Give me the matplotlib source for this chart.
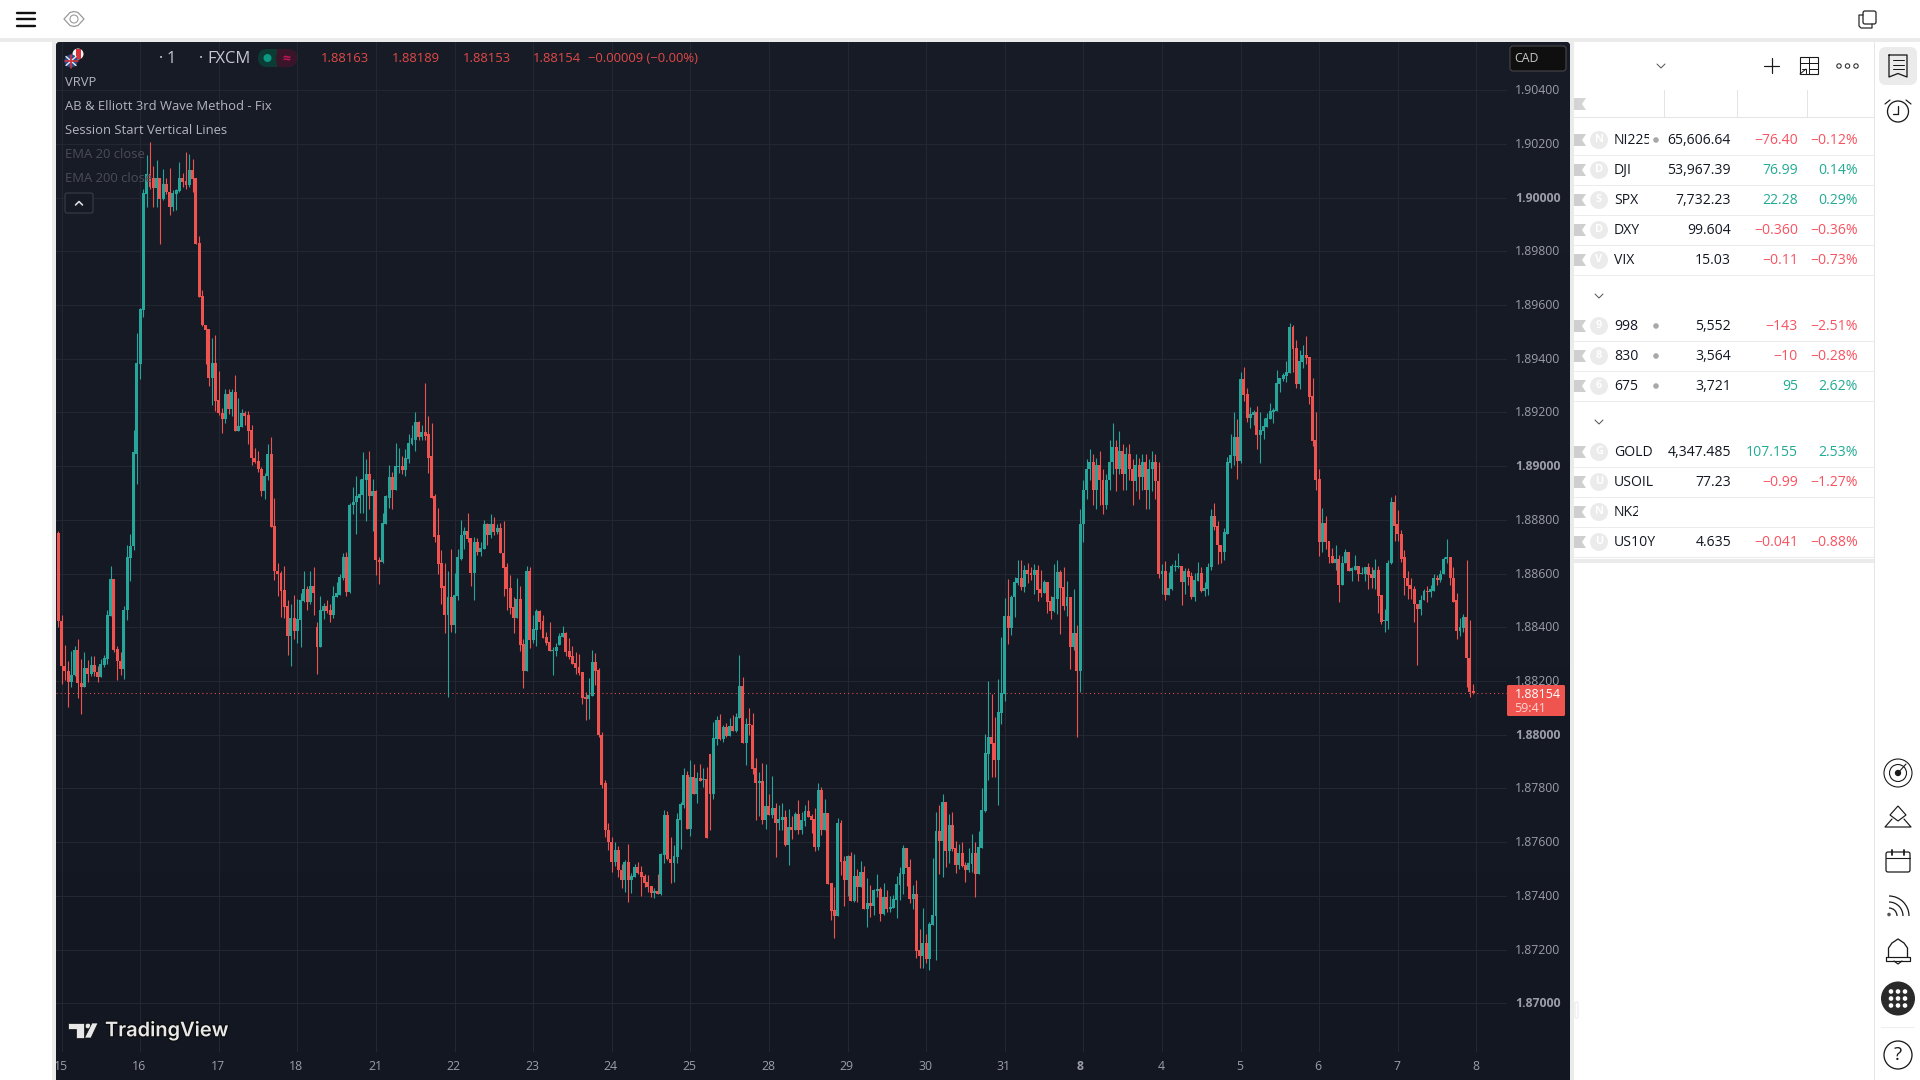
import numpy as np
import matplotlib
matplotlib.use("Agg")
import matplotlib.pyplot as plt
from matplotlib.patches import Rectangle, Circle, Polygon, FancyBboxPatch, Arc
from matplotlib.transforms import Bbox, Affine2D
import matplotlib.patheffects as pe

plt.rcParams['font.family'] = ['Open Sans', 'DejaVu Sans']

# hourly candles, points (1e-5) above 1.87000
opens = [
    1752,1425,1255,1239,1195,1221,1317,1194,1177,1249,1228,1261,
    1235,1214,1261,1283,1441,1581,1321,1276,1246,1463,1657,1701,
    2047,2379,2580,3012,3087,3074,3037,3074,2994,3050,3021,2964,
    3012,3025,3072,3061,3047,3102,3072,2830,2632,2527,2509,2327,
    2383,2245,2199,2174,2267,2211,2275,2129,2144,2196,2189,2133,
    2032,2021,1991,1909,1962,2047,1779,1611,1604,1540,1481,1369,
    1436,1388,1429,1499,1544,1496,1552,1403,1328,1462,1481,1466,
    1444,1514,1522,1585,1660,1533,1854,1865,1883,1891,1950,1969,
    1887,1909,1652,1645,1786,1883,1958,1913,1995,1999,1984,2025,
    2081,2099,2163,2107,2126,2118,2036,1887,1742,1641,1552,1444,
    1511,1410,1518,1656,1742,1760,1731,1604,1716,1682,1693,1783,
    1742,1783,1753,1768,1678,1623,1548,1477,1436,1507,1339,1239,
    1611,1354,1391,1462,1425,1365,1347,1313,1313,1336,1365,1377,
    1313,1295,1269,1254,1235,1142,1134,1146,1272,1242,1000,820,
    646,602,527,572,497,460,527,460,471,508,490,475,
    452,437,411,419,408,553,702,538,523,545,683,739,
    851,650,844,780,840,832,836,929,780,985,1056,985,
    1030,996,1034,1015,1063,1183,970,1041,1037,877,821,829,
    683,735,702,728,672,683,694,590,657,646,706,646,
    680,717,698,687,583,795,646,709,449,348,326,672,
    531,460,549,381,475,434,490,352,374,363,419,426,
    333,396,352,355,385,441,482,579,508,389,408,199,
    176,225,165,292,326,642,605,750,568,665,579,516,
    561,516,497,519,561,482,579,717,929,993,970,907,
    1082,1153,1443,1399,1511,1566,1585,1551,1615,1604,1596,1615,
    1544,1529,1570,1499,1462,1507,1607,1551,1481,1511,1328,1380,
    1238,1786,1913,1988,2017,1913,2006,1950,1857,1950,2017,2070,
    1988,2055,1969,2044,1988,1943,2006,1958,2017,1913,1988,2017,
    1943,1600,1611,1522,1544,1626,1626,1630,1570,1611,1592,1511,
    1574,1604,1537,1544,1623,1816,1779,1708,1679,1749,2010,2036,
    2107,2021,2323,2267,2178,2189,2200,2115,2129,2144,2174,2200,
    2204,2305,2323,2334,2346,2517,2439,2305,2387,2413,2405,2260,
    2096,1951,1716,1787,1720,1664,1641,1656,1559,1638,1682,1608,
    1615,1630,1597,1600,1623,1597,1585,1615,1522,1425,1425,1638,
    1865,1783,1749,1660,1585,1556,1544,1488,1470,1500,1537,1533,
    1537,1585,1578,1597,1656,1660,1585,1500,1388,1399,1440,1287,
    1163]
closes = [
    1423,1255,1236,1195,1224,1317,1191,1177,1249,1228,1261,1234,
    1214,1265,1287,1444,1581,1317,1273,1246,1466,1660,1704,2051,
    2383,2584,3016,3087,3040,3037,3074,2994,3050,3019,2964,3016,
    3027,3072,3058,3047,3102,3068,2826,2630,2524,2506,2327,2383,
    2241,2196,2174,2267,2211,2275,2129,2148,2196,2185,2129,2029,
    2017,1988,1909,1965,2047,1775,1608,1600,1537,1477,1369,1436,
    1388,1432,1503,1544,1496,1552,1529,1328,1466,1481,1462,1444,
    1518,1526,1589,1660,1533,1857,1868,1887,1895,1954,1969,1887,
    1909,1649,1645,1790,1887,1958,1913,1999,1999,1984,2029,2085,
    2103,2163,2107,2126,2114,2032,1883,1738,1637,1548,1444,1511,
    1410,1522,1660,1745,1760,1727,1604,1716,1682,1697,1783,1742,
    1783,1753,1768,1675,1619,1544,1473,1436,1507,1336,1239,1611,
    1354,1395,1462,1421,1362,1343,1313,1317,1328,1369,1377,1309,
    1291,1265,1250,1231,1138,1134,1149,1272,1239,1000,814,646,
    602,527,572,497,460,527,460,475,508,486,471,449,
    434,411,419,408,557,702,538,523,549,687,743,851,
    650,844,780,840,829,836,616,780,989,1056,985,1030,
    996,1034,1015,1067,1183,970,1041,1037,873,821,829,683,
    735,702,728,672,687,694,590,657,646,706,646,683,
    717,694,683,583,795,646,709,445,344,326,672,527,
    460,549,381,475,434,490,352,374,363,422,426,333,
    396,352,359,389,445,486,579,504,389,408,195,176,
    225,165,296,329,642,605,750,568,665,575,516,561,
    512,497,523,561,482,583,720,933,993,967,907,1086,
    1156,1443,1399,1514,1570,1585,1551,1615,1600,1596,1615,1540,
    1529,1570,1496,1462,1511,1607,1548,1481,1511,1328,1380,1238,
    1786,1913,1988,2017,1913,2006,1950,1857,1950,2017,2070,1988,
    2055,1969,2044,1988,1943,2006,1958,2017,1913,1988,2017,1943,
    1600,1611,1522,1548,1630,1630,1630,1570,1611,1589,1511,1578,
    1604,1537,1548,1626,1816,1775,1705,1679,1753,2014,2040,2107,
    2021,2323,2264,2178,2193,2200,2115,2133,2148,2178,2204,2208,
    2308,2327,2338,2349,2517,2435,2305,2390,2413,2401,2256,2092,
    1947,1716,1787,1716,1660,1641,1656,1559,1641,1682,1608,1619,
    1630,1597,1604,1623,1593,1585,1615,1518,1421,1429,1641,1865,
    1779,1746,1656,1582,1552,1541,1485,1470,1503,1537,1533,1541,
    1585,1578,1600,1656,1660,1582,1496,1388,1403,1440,1284,1161,
    1154]
highs = [
    1760,1447,1336,1273,1311,1329,1358,1283,1307,1280,1292,1292,
    1257,1283,1298,1464,1630,1581,1332,1309,1481,1708,1749,2133,
    2494,2590,3031,3158,3205,3118,3139,3074,3105,3072,3109,3027,
    3031,3132,3091,3169,3161,3143,3072,2856,2655,2527,2509,2476,
    2487,2353,2217,2289,2288,2286,2338,2252,2211,2207,2204,2152,
    2066,2055,1995,1976,2081,2107,1883,1641,1608,1630,1500,1485,
    1522,1507,1526,1611,1555,1608,1626,1418,1518,1492,1503,1485,
    1552,1567,1600,1678,1682,1861,1921,1962,1954,2051,2025,2058,
    1954,1913,1660,1827,1891,2003,1980,2088,2066,2036,2062,2118,
    2155,2200,2167,2152,2308,2185,2159,1898,1846,1686,1641,1608,
    1690,1604,1693,1801,1772,1824,1734,1738,1731,1716,1798,1790,
    1820,1809,1783,1790,1794,1641,1593,1511,1582,1552,1358,1630,
    1626,1447,1470,1466,1444,1384,1421,1328,1343,1380,1406,1384,
    1362,1332,1309,1302,1235,1160,1213,1317,1306,1250,1010,830,
    670,620,600,585,520,534,594,486,519,527,512,482,
    478,437,430,482,560,721,717,620,590,709,750,877,
    866,907,892,862,892,877,881,929,1048,1071,1078,1037,
    1045,1063,1075,1082,1298,1216,1063,1101,1082,914,862,896,
    892,780,847,747,739,747,721,724,698,713,758,713,
    739,758,706,728,821,806,762,709,449,434,691,683,
    549,553,564,557,501,531,512,467,441,426,482,434,
    449,422,400,404,475,508,590,579,538,441,460,277,
    356,259,303,542,713,739,780,750,706,713,605,594,
    601,527,579,631,601,642,803,1004,1201,1153,1067,1209,
    1365,1510,1581,1522,1589,1652,1652,1633,1641,1626,1637,1633,
    1615,1578,1570,1518,1637,1652,1615,1626,1574,1511,1544,1410,
    1839,1950,2025,2062,2044,2032,2055,1988,1969,2099,2159,2099,
    2129,2081,2070,2081,2025,2044,2032,2044,2044,2025,2055,2044,
    2017,1637,1648,1607,1637,1652,1678,1630,1622,1619,1607,1604,
    1645,1626,1567,1641,1839,1861,1794,1708,1768,2033,2118,2200,
    2174,2349,2368,2290,2219,2208,2223,2200,2178,2196,2234,2215,
    2357,2327,2346,2390,2532,2524,2468,2431,2450,2483,2405,2327,
    2200,1988,1843,1813,1723,1697,1705,1671,1664,1690,1682,1626,
    1671,1630,1626,1626,1641,1626,1656,1630,1522,1470,1649,1884,
    1891,1835,1761,1686,1611,1582,1552,1488,1522,1541,1552,1556,
    1597,1593,1615,1660,1727,1660,1626,1526,1436,1451,1652,1429,
    1189]
lows = [
    1400,1188,1203,1102,1177,1218,1136,1076,1177,1198,1218,1218,
    1198,1214,1251,1265,1441,1309,1205,1224,1209,1429,1574,1686,
    1932,2323,2555,2966,3031,2966,2966,2826,2991,3012,2934,2948,
    2953,3022,3041,3031,3041,3022,2826,2630,2522,2379,2298,2226,
    2207,2189,2122,2159,2193,2185,2129,2129,2144,2155,2081,2006,
    2010,1980,1887,1876,1947,1775,1578,1518,1440,1436,1298,1257,
    1358,1343,1328,1496,1466,1488,1444,1228,1328,1432,1455,1421,
    1436,1514,1522,1578,1518,1526,1820,1749,1824,1824,1794,1842,
    1760,1596,1563,1641,1786,1846,1839,1913,1973,1969,1965,2010,
    2077,2058,2096,2096,2096,1973,1880,1716,1600,1488,1380,1142,
    1384,1377,1500,1649,1690,1719,1555,1500,1671,1667,1693,1708,
    1731,1745,1749,1675,1518,1466,1451,1377,1436,1313,1175,1239,
    1324,1343,1332,1395,1362,1336,1313,1224,1295,1336,1365,1295,
    1283,1265,1228,1224,1116,1056,1060,1146,1187,990,800,620,
    570,490,510,470,430,415,378,411,471,482,400,434,
    415,396,393,408,404,523,534,449,452,523,575,728,
    650,624,780,747,829,806,616,646,762,963,981,974,
    993,996,1015,1011,1063,970,888,1000,855,683,698,668,
    650,702,691,545,646,646,586,516,613,646,631,631,
    661,694,635,568,572,627,646,445,311,244,326,478,
    363,400,381,378,378,434,352,285,322,329,396,307,
    329,340,340,355,318,385,408,437,374,352,169,132,
    132,150,124,292,162,482,471,508,523,568,486,501,
    508,452,490,490,396,482,579,713,832,844,844,739,
    1041,1127,1339,1373,1440,1559,1540,1533,1566,1578,1525,1499,
    1514,1529,1455,1432,1458,1451,1376,1466,1443,1246,1317,993,
    1160,1716,1876,1950,1857,1839,1857,1820,1839,1913,1969,1906,
    1969,1913,1913,1950,1857,1906,1876,1913,1839,1839,1906,1876,
    1585,1525,1503,1522,1540,1611,1619,1484,1525,1559,1507,1499,
    1574,1530,1518,1522,1615,1761,1634,1641,1649,1749,1992,2003,
    1954,2010,2241,2163,2141,2152,2062,2010,2100,2144,2174,2159,
    2204,2275,2316,2312,2346,2349,2290,2286,2364,2379,2230,2074,
    1913,1667,1682,1690,1641,1638,1615,1496,1556,1638,1608,1574,
    1615,1574,1597,1574,1544,1548,1541,1455,1414,1384,1392,1634,
    1723,1723,1645,1522,1507,1507,1421,1261,1444,1500,1496,1511,
    1537,1559,1570,1597,1638,1559,1496,1358,1366,1384,1176,1142,
    1153]

day_labels = ['15','16','17','18','21','22','23','24','25','28','29','30','31','8','4','5','6','7','8']
price_ticks = [1.87 + 0.002 * k for k in range(18)]
bold_prices = ['1.87000', '1.88000', '1.89000', '1.90000']
last_price = 1.88154

ohlc_header = ['1.88163', '1.88189', '1.88153', '1.88154']
legend_names = ['VRVP', 'AB & Elliott 3rd Wave Method - Fix', 'Session Start Vertical Lines', 'EMA 20 close', 'EMA 200 close']

symbols = ['NI225', 'DJI', 'SPX', 'DXY', 'VIX', '9984', '8306', '6758', 'GOLD', 'USOIL', 'NK225', 'US10Y']
badges = ['N', 'D', 'S', 'D', 'V', '9', '8', '6', 'G', 'U', 'N', 'U']
last_vals = ['65,606.64', '53,967.39', '7,732.23', '99.604', '15.03', '5,552', '3,564', '3,721', '4,347.485', '77.23', '', '4.635']
changes = ['−76.40', '76.99', '22.28', '−0.360', '−0.11', '−143', '−10', '95', '107.155', '−0.99', '', '−0.041']
percents = ['−0.12%', '0.14%', '0.29%', '−0.36%', '−0.73%', '−2.51%', '−0.28%', '2.62%', '2.53%', '−1.27%', '', '−0.88%']
row_y = [140, 170, 200, 230, 260, 326, 356, 386, 452, 482, 512, 542]

GREEN = '#26a69a'
RED = '#ef5350'
W_GREEN = '#22ab94'
W_RED = '#f7525f'
GRID = '#232732'
TICK = '#9b9ea8'
BAND = '#ebebeb'

fig = plt.figure(figsize=(19.2, 10.8), dpi=100, facecolor='white')

# background layer, pixel coordinates
bg = fig.add_axes([0, 0, 1, 1], zorder=0)
bg.set_xlim(0, 1920)
bg.set_ylim(1080, 0)
bg.axis('off')
bg.add_patch(Rectangle((0, 38), 1920, 4, color=BAND, lw=0))
bg.add_patch(Rectangle((52, 38), 4, 1042, color=BAND, lw=0))
bg.add_patch(Rectangle((1570, 38), 4, 1042, color=BAND, lw=0))
panel = FancyBboxPatch((56, 42), 1514, 1060, boxstyle='round,pad=0,rounding_size=4', fc='#161a25', ec='none')
bg.add_patch(panel)
top_c = np.array(matplotlib.colors.to_rgb('#181c27'))
bot_c = np.array(matplotlib.colors.to_rgb('#131722'))
grad = np.linspace(0, 1, 256)[:, None, None] * (bot_c - top_c) + top_c
im = bg.imshow(grad, extent=(56, 1570, 1080, 42), aspect='auto', zorder=1)
im.set_clip_path(panel)
bg.set_xlim(0, 1920)
bg.set_ylim(1080, 0)

# candles
ax = fig.add_axes([56 / 1920, 1 - 1052 / 1080, (1507 - 56) / 1920, (1052 - 42) / 1080], zorder=1)
ax.patch.set_alpha(0)
for s in ax.spines.values():
    s.set_visible(False)

o = 1.87 + np.array(opens) / 1e5
c = 1.87 + np.array(closes) / 1e5
h = 1.87 + np.array(highs) / 1e5
l = 1.87 + np.array(lows) / 1e5
x = np.arange(len(o))
cols = [GREEN if cc >= oo else RED for oo, cc in zip(o, c)]
ax.vlines(x, l, h, colors=cols, lw=0.8, zorder=3)
ax.bar(x, np.maximum(np.abs(c - o), 0.00003), bottom=np.minimum(o, c), width=0.9, color=cols, lw=0, zorder=3)
ax.axhline(last_price, color=RED, lw=0.75, ls=(0, (1, 3)), zorder=2)

ax.set_xlim(-0.70, 442.35)
ax.set_ylim(1.86819, 1.90579)
ax.set_axisbelow(True)
ax.grid(True, color=GRID, lw=0.75)

ax.yaxis.tick_right()
ax.set_yticks(price_ticks)
ax.set_yticklabels([f'{v:.5f}' for v in price_ticks])
ax.set_xticks([1 + 24 * k for k in range(len(day_labels))])
ax.set_xticklabels(day_labels)
ax.tick_params(axis='y', length=0, pad=5.8, labelsize=8.85, labelcolor=TICK)
ax.tick_params(axis='x', length=0, pad=6.0, labelsize=8.85, labelcolor=TICK)
for lbl in ax.get_yticklabels():
    lbl.set_transform(lbl.get_transform() + Affine2D().translate(0, 1))
    if lbl.get_text() in bold_prices:
        lbl.set_fontweight('bold')
for k, lbl in enumerate(ax.get_xticklabels()):
    lbl.set_transform(lbl.get_transform() + Affine2D().translate(-3.5 if k == 13 else -1, 0))
    lbl.set_clip_box(Bbox([[56, 0], [1570, 1080]]))
    lbl.set_clip_on(True)
ax.get_xticklabels()[13].set_fontweight('bold')

# everything else sits on top, again in pixel coordinates
ui = fig.add_axes([0, 0, 1, 1], zorder=2)
ui.set_xlim(0, 1920)
ui.set_ylim(1080, 0)
ui.axis('off')
ui.patch.set_alpha(0)


def txt(xp, yp, s, size=13, color='#b2b5be', ha='left', **kw):
    return ui.text(xp, yp + 1, s, fontsize=size * 0.72, color=color, ha=ha, va='center', **kw)


def line(xs, ys, color='#1a1a1a', lw=1.3, **kw):
    ui.plot(xs, ys, color=color, lw=lw * 0.72, solid_capstyle='round', **kw)


def ring(xp, yp, r, ec='#1a1a1a', lw=1.3, fc='none'):
    ui.add_patch(Circle((xp, yp), r, fc=fc, ec=ec, lw=lw * 0.72))


# top bar
for yy in (13, 19, 25.5):
    line([17, 35], [yy, yy], color='#111111', lw=2.4)
ui.add_patch(Polygon([(64, 19), (70, 12.5), (74, 11.5), (78, 12.5), (84, 19), (78, 25.5), (74, 26.5), (70, 25.5)], closed=True, fc='none', ec='#9a9a9a', lw=0.9, joinstyle='round'))
ring(74, 19, 4, ec='#9a9a9a', lw=1.1)
ui.add_patch(FancyBboxPatch((1863, 11), 13, 13, boxstyle='round,pad=0,rounding_size=2', fc='none', ec='#222222', lw=0.9))
line([1863, 1859, 1859, 1861, 1872, 1872], [15, 15, 26, 28, 28, 24], color='#222222', lw=1.2)

# chart header
ui.add_patch(Circle((78, 54), 5.5, fc='#f4f4f4', ec='none'))
ui.add_patch(Rectangle((75.5, 49), 5, 10, fc='#d8333a', ec='none'))
ui.add_patch(Circle((71, 61), 6.5, fc='#2c4a8c', ec='none'))
line([66, 76], [56.5, 65.5], color='#e8e8e8', lw=1.4)
line([66, 76], [65.5, 56.5], color='#e8e8e8', lw=1.4)
line([64.5, 77.5], [61, 61], color='#d8333a', lw=1.6)
line([71, 71], [54.5, 67.5], color='#d8333a', lw=1.6)
txt(158.5, 58, '·', 16, color='#c8cad0')
txt(166.5, 58, '1', 16, color='#c8cad0')
txt(198.5, 58, '·', 16, color='#c8cad0')
txt(207, 58, 'FXCM', 16.5, color='#c8cad0')
ui.add_patch(FancyBboxPatch((258, 49), 39, 18, boxstyle='round,pad=0,rounding_size=9', fc='#0c3a35', ec='none'))
ui.add_patch(FancyBboxPatch((276, 49), 21, 18, boxstyle='round,pad=0,rounding_size=9', fc='#3a1429', ec='none'))
ui.add_patch(Rectangle((277, 49), 8, 18, fc='#3a1429', ec='none'))
ui.add_patch(Circle((267.5, 58), 4, fc='#0b9981', ec='none'))
txt(286, 57, '≈', 14, color='#c2185b', ha='center', fontweight='bold')
for xp, s in zip([321, 392, 463, 533], ohlc_header):
    txt(xp, 58, s, 13, color='#e04a48')
txt(588, 58, '−0.00009 (−0.00%)', 13, color='#e04a48')

for k, name in enumerate(legend_names):
    txt(65, 81 + 24 * k, name, 13, color='#b2b5be' if k < 3 else '#4a4d55')
ui.add_patch(FancyBboxPatch((65, 193), 28, 20, boxstyle='round,pad=0,rounding_size=2', fc='#161a25', ec='#3b3f49', lw=0.75))
line([75.5, 79, 82.5], [205, 201.5, 205], color='#e0e0e0', lw=1.6)

# currency box and last price label
ui.add_patch(FancyBboxPatch((1510, 46), 56, 25, boxstyle='round,pad=0,rounding_size=3', fc='#0f0f0f', ec='#4a4a4a', lw=0.75))
txt(1514, 58, 'CAD', 12.3, color='#c8c8c8')
ui.add_patch(FancyBboxPatch((1507, 685), 58, 31, boxstyle='round,pad=0,rounding_size=1.5', fc='#f0544f', ec='none'))
txt(1514.5, 693, f'{last_price:.5f}', 12.5, color='#ffffff')
txt(1514.5, 707, '59:41', 12.5, color='#ffd3d0')

# TradingView mark
ui.add_patch(Polygon([(68, 1023), (84, 1023), (84, 1038), (76, 1038), (76, 1029), (68, 1029)], closed=True, fc='#e8e8e8', ec='#0e0e0e', lw=0.5))
ui.add_patch(Circle((88, 1026), 2.8, fc='#e8e8e8', ec='#0e0e0e', lw=0.5))
ui.add_patch(Polygon([(92, 1023), (98, 1023), (91, 1038), (84.5, 1038)], closed=True, fc='#e8e8e8', ec='#0e0e0e', lw=0.5))
tv = txt(105, 1030, 'TradingView', 20, color='#e8e8e8', family='Inter', fontweight='semibold')
tv.set_path_effects([pe.withStroke(linewidth=1.6, foreground='#0c0c0c')])

# watchlist panel
ui.add_patch(Rectangle((1874, 42), 1.2, 1038, color='#e6e6e6', lw=0))
for xs in (1664, 1737, 1807):
    line([xs, xs], [90, 117], color='#e4e4e4', lw=1)
line([1574, 1874], [117, 117], color='#e4e4e4', lw=1)
ui.add_patch(Polygon([(1574, 98), (1586, 98), (1582, 104), (1586, 110), (1574, 110)], closed=True, fc='#d4d4d4', ec='none'))
ui.add_patch(Rectangle((1574, 559), 300, 4, color=BAND, lw=0))


def chevron(xp, yp):
    line([xp - 4, xp, xp + 4], [yp - 2, yp + 2, yp - 2], color='#555555', lw=1)


chevron(1661, 66)
chevron(1599, 296)
chevron(1599, 422)
line([1764, 1779], [65.5, 65.5], lw=1.2)
line([1771.5, 1771.5], [58, 73], lw=1.2)
ui.add_patch(Rectangle((1800, 57), 18, 17, fc='none', ec='#1a1a1a', lw=0.8))
line([1800, 1818], [63, 63], lw=1)
line([1809, 1809], [57, 74], lw=1)
line([1809, 1818], [69, 69], lw=1)
line([1800, 1806], [74, 69], lw=1)
line([1802, 1806, 1806], [69, 69, 73], lw=1)
for xp in (1839, 1847.5, 1856):
    ring(xp, 66, 2.2, lw=1.1, ec='#333333')

for k, sym in enumerate(symbols):
    yy = row_y[k]
    ui.add_patch(Polygon([(1574, yy - 6), (1586, yy - 6), (1582, yy), (1586, yy + 6), (1574, yy + 6)], closed=True, fc='#cfcfcf', ec='none'))
    ui.add_patch(Circle((1599, yy), 9, fc='#ebebeb', ec='none'))
    txt(1599, yy - 1, badges[k], 11, color='#ffffff', ha='center', fontweight='bold')
    t = txt(1614, yy - 0.5, sym, 14, color='#131722')
    clip_x = 1649 if sym == 'NI225' else (1638 if k in (5, 6, 7, 10) else 1700)
    t.set_clip_box(Bbox([[1600, 0], [clip_x, 1080]]))
    t.set_clip_on(True)
    if k < 1 or k in (5, 6, 7):
        ui.add_patch(Circle((1656, yy), 2.8, fc='#a8a8a8', ec='none'))
    if last_vals[k]:
        col = W_RED if changes[k].startswith('−') else W_GREEN
        txt(1731, yy - 0.5, last_vals[k], 14, color='#131722', ha='right')
        txt(1798, yy - 0.5, changes[k], 14, color=col, ha='right')
        txt(1858, yy - 0.5, percents[k], 14, color=col, ha='right')
    line([1574, 1874], [yy + 14.7, yy + 14.7], color='#ececec', lw=1)

# right icon strip
ui.add_patch(FancyBboxPatch((1879, 47), 38, 38, boxstyle='round,pad=0,rounding_size=7', fc=BAND, ec='none'))
line([1889, 1889, 1898, 1907, 1907, 1889], [55, 77, 73.5, 77, 55, 55], lw=1.3)
for yy in (60, 64.5, 69):
    line([1892.5, 1903.5], [yy, yy], lw=1)
ring(1898, 111.5, 10.5)
line([1898, 1898, 1893], [105.5, 113.5, 113.5], lw=1.3)
line([1885, 1890], [104, 100], lw=1.2)
line([1906, 1911], [100, 104], lw=1.2)

ring(1898, 773, 14, lw=1.1)
ring(1898, 773, 8.5, lw=1.1)
ring(1898, 773, 2.5, fc='#1a1a1a')
line([1898, 1906], [773, 764], lw=1.1)
ui.add_patch(Polygon([(1898, 806), (1906, 815), (1898, 821), (1890, 815)], closed=True, fc='none', ec='#1a1a1a', lw=0.85))
line([1892, 1885, 1911, 1904], [819, 827, 827, 819], lw=1.2)
ui.add_patch(FancyBboxPatch((1886, 852), 24, 20, boxstyle='round,pad=0,rounding_size=2', fc='none', ec='#1a1a1a', lw=0.9))
line([1886, 1910], [858, 858], lw=1.1)
line([1892, 1892], [850, 855], lw=1.8)
line([1904, 1904], [850, 855], lw=1.8)
for r in (8, 14, 20):
    ui.add_patch(Arc((1889, 916), 2 * r, 2 * r, theta1=270, theta2=360, ec='#1a1a1a', lw=0.9))
ui.add_patch(Circle((1889, 914.5), 1.8, fc='#555555', ec='none'))
line([1888.5, 1888.5, 1892, 1898, 1904, 1907.5, 1907.5], [957, 948, 943, 939, 943, 948, 957], lw=1.3)
line([1886, 1910, 1910, 1886, 1886], [957, 957, 961, 961, 957], lw=1.2)
line([1894, 1898, 1902], [961, 964, 961], lw=1.2)
ui.add_patch(Circle((1898, 998.5), 17, fc='#2a2a2a', ec='none'))
for dx in (-7, 0, 7):
    for dy in (-7, 0, 7):
        ui.add_patch(Circle((1898 + dx, 998.5 + dy), 2.3, fc='#ffffff', ec='none'))
line([1881, 1914], [1027, 1027], color='#eeeeee', lw=1)
ring(1898, 1055, 14)
txt(1898, 1054, '?', 19, color='#1a1a1a', ha='center')

# pane resize grip
ui.add_patch(FancyBboxPatch((1575, 1002), 3, 16, boxstyle='round,pad=0,rounding_size=1', fc='#ffffff', ec='#e4e4e4', lw=0.6))

fig.savefig('out.png', dpi=100)
